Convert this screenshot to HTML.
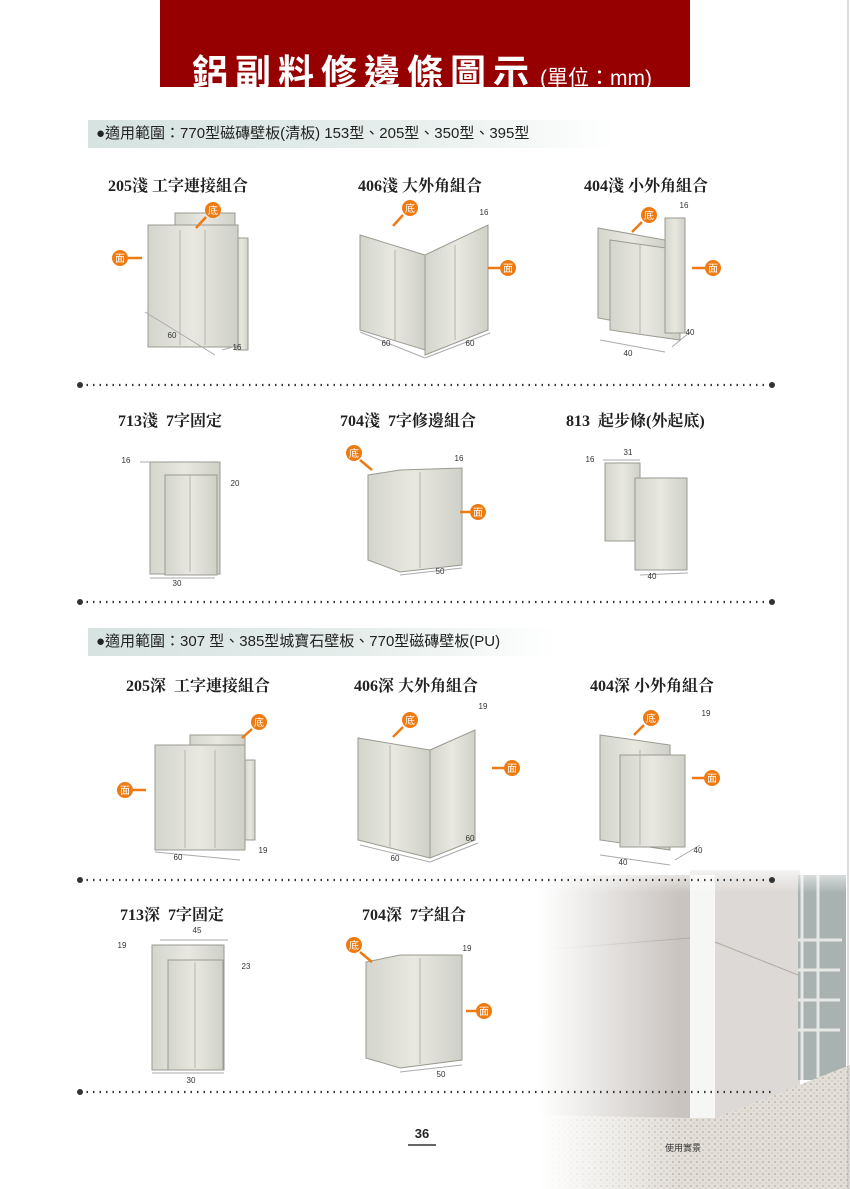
<!DOCTYPE html>
<html><head><meta charset="utf-8">
<style>
body{margin:0;background:#fff;}
#pg{position:relative;width:850px;height:1189px;overflow:hidden;background:#fff;font-family:"Liberation Sans","Noto Sans CJK TC",sans-serif;}
.abs{position:absolute;}
.h{position:absolute;font-family:"Liberation Serif","Noto Serif CJK SC",serif;font-weight:bold;font-size:16px;color:#222;white-space:nowrap;}
.bar{position:absolute;height:28px;background:linear-gradient(90deg,#d6e3e1 0%,#e6eeec 60%,#fff 100%);font-size:15px;line-height:28px;color:#222;padding-left:8px;white-space:nowrap;}
</style></head><body><div id="pg">
<div class="abs" style="left:160px;top:0;width:530px;height:87px;background:#960000;"></div>
<div class="abs" style="left:192px;top:44px;font-size:36px;font-weight:bold;color:#fff;letter-spacing:7px;white-space:nowrap;">鋁副料修邊條圖示<span style="font-size:21px;font-weight:normal;letter-spacing:0;margin-left:4px">(單位：mm)</span></div>
<div class="bar" style="left:88px;top:120px;width:520px;">●適用範圍：770型磁磚壁板(清板) 153型、205型、350型、395型</div>
<div class="bar" style="left:88px;top:628px;width:460px;">●適用範圍：307 型、385型城寶石壁板、770型磁磚壁板(PU)</div>
<div class="h" style="left:108px;top:173px">205淺 工字連接組合</div>
<div class="h" style="left:358px;top:173px">406淺 大外角組合</div>
<div class="h" style="left:584px;top:173px">404淺 小外角組合</div>
<div class="h" style="left:118px;top:408px">713淺 &nbsp;7字固定</div>
<div class="h" style="left:340px;top:408px">704淺 &nbsp;7字修邊組合</div>
<div class="h" style="left:566px;top:408px">813 &nbsp;起步條(外起底)</div>
<div class="h" style="left:126px;top:673px">205深 &nbsp;工字連接組合</div>
<div class="h" style="left:354px;top:673px">406深 大外角組合</div>
<div class="h" style="left:590px;top:673px">404深 小外角組合</div>
<div class="h" style="left:120px;top:902px">713深 &nbsp;7字固定</div>
<div class="h" style="left:362px;top:902px">704深 &nbsp;7字組合</div>
<!-- photo -->
<svg class="abs" style="left:540px;top:860px" width="310" height="329">
<defs>
<linearGradient id="fd" x1="0" x2="1"><stop offset="0" stop-color="#fff" stop-opacity="1"/><stop offset="0.45" stop-color="#fff" stop-opacity="0"/></linearGradient>
<linearGradient id="fv" x1="0" y1="0" x2="0" y2="1"><stop offset="0" stop-color="#fff" stop-opacity="1"/><stop offset="0.1" stop-color="#fff" stop-opacity="0"/></linearGradient>
<pattern id="sp" width="6" height="6" patternUnits="userSpaceOnUse"><rect width="6" height="6" fill="#e2ded8"/><circle cx="1" cy="2" r="0.8" fill="#a59e95"/><circle cx="4" cy="5" r="0.6" fill="#b8b1a7"/></pattern>
</defs>
<rect x="0" y="15" width="150" height="250" fill="#c9c4c0"/>
<rect x="150" y="10" width="110" height="250" fill="#dcd9d6"/>
<rect x="150" y="15" width="25" height="247" fill="#f6f6f4"/>
<rect x="258" y="15" width="48" height="205" fill="#a9b2b1"/>
<g stroke="#e6e8e6" stroke-width="3"><line x1="258" y1="80" x2="302" y2="80"/><line x1="258" y1="110" x2="300" y2="110"/><line x1="258" y1="140" x2="300" y2="140"/><line x1="258" y1="170" x2="300" y2="170"/><line x1="278" y1="15" x2="278" y2="220"/><line x1="262" y1="15" x2="262" y2="220"/></g>
<line x1="0" y1="90" x2="150" y2="78" stroke="#b0aba6"/><line x1="175" y1="82" x2="258" y2="115" stroke="#b0aba6"/>
<polygon points="0,255 150,258 175,258 310,205 310,329 0,329" fill="url(#sp)"/>
<rect width="310" height="329" fill="url(#fd)"/>
<rect width="310" height="329" fill="url(#fv)"/>
<text x="125" y="291" font-size="9" fill="#333" font-family="Liberation Sans,Noto Sans CJK TC,sans-serif">使用實景</text>
</svg>
<svg class="abs" style="left:0;top:0" width="850" height="1189" font-family="Liberation Sans,sans-serif">
<defs>
<linearGradient id="pn" x1="0" x2="1"><stop offset="0" stop-color="#d4d5cc"/><stop offset="0.5" stop-color="#e8e8e0"/><stop offset="1" stop-color="#cfd0c8"/></linearGradient>
</defs>
<g stroke="#333" stroke-width="2.2" stroke-dasharray="1.5 5" fill="none">
<line x1="80" y1="385" x2="772" y2="385"/><line x1="80" y1="602" x2="772" y2="602"/><line x1="80" y1="880" x2="772" y2="880"/><line x1="80" y1="1092" x2="772" y2="1092"/>
</g>
<g fill="#333"><circle cx="80" cy="385" r="3"/><circle cx="772" cy="385" r="3"/><circle cx="80" cy="602" r="3"/><circle cx="772" cy="602" r="3"/><circle cx="80" cy="880" r="3"/><circle cx="772" cy="880" r="3"/><circle cx="80" cy="1092" r="3"/></g>
<g fill="url(#pn)" stroke="#9a9a92" stroke-width="1">
<rect x="175" y="213" width="60" height="30"/><rect x="236" y="238" width="12" height="112"/><rect x="148" y="225" width="90" height="122"/>
<polygon points="360,235 425,255 425,350 360,330"/><polygon points="425,255 488,225 488,330 425,355"/>
<polygon points="598,228 665,240 665,330 598,318"/><polygon points="610,240 680,250 680,340 610,330"/><rect x="665" y="218" width="20" height="115"/>
<rect x="150" y="462" width="70" height="112"/><rect x="165" y="475" width="52" height="100"/>
<polygon points="368,475 400,470 462,468 462,565 400,572 368,560"/>
<rect x="605" y="463" width="35" height="78"/><rect x="635" y="478" width="52" height="92"/>
<rect x="190" y="735" width="55" height="30"/><rect x="155" y="745" width="90" height="105"/><rect x="245" y="760" width="10" height="80"/>
<polygon points="358,738 358,840 430,858 430,750"/><polygon points="430,750 475,730 475,840 430,858"/>
<polygon points="600,735 670,745 670,850 600,840"/><rect x="620" y="755" width="65" height="92"/>
<rect x="152" y="945" width="72" height="125"/><rect x="168" y="960" width="55" height="110"/>
<polygon points="366,962 400,955 462,955 462,1060 400,1068 366,1058"/>
</g>
<g stroke="#b5b5ad" stroke-width="1">
<line x1="180" y1="230" x2="180" y2="345"/><line x1="205" y1="230" x2="205" y2="345"/><line x1="395" y1="250" x2="395" y2="340"/><line x1="455" y1="245" x2="455" y2="340"/><line x1="640" y1="245" x2="640" y2="335"/><line x1="190" y1="475" x2="190" y2="572"/><line x1="420" y1="472" x2="420" y2="568"/><line x1="185" y1="750" x2="185" y2="848"/><line x1="215" y1="750" x2="215" y2="848"/><line x1="390" y1="745" x2="390" y2="848"/><line x1="640" y1="750" x2="640" y2="845"/><line x1="195" y1="962" x2="195" y2="1068"/><line x1="420" y1="958" x2="420" y2="1064"/>
</g>
<g stroke="#aaa" stroke-width="1" fill="none">
<line x1="145" y1="312" x2="215" y2="355"/><line x1="222" y1="350" x2="240" y2="345"/><line x1="360" y1="332" x2="425" y2="358"/><line x1="425" y1="358" x2="490" y2="333"/>
<line x1="600" y1="340" x2="665" y2="352"/><line x1="672" y1="347" x2="690" y2="332"/><line x1="150" y1="578" x2="215" y2="578"/><line x1="400" y1="575" x2="462" y2="568"/><line x1="640" y1="575" x2="688" y2="573"/>
<line x1="155" y1="852" x2="240" y2="860"/><line x1="360" y1="845" x2="430" y2="862"/><line x1="430" y1="862" x2="478" y2="843"/><line x1="600" y1="855" x2="670" y2="865"/><line x1="675" y1="860" x2="700" y2="845"/>
<line x1="152" y1="1073" x2="224" y2="1073"/><line x1="400" y1="1072" x2="462" y2="1065"/><line x1="160" y1="940" x2="228" y2="940"/><line x1="140" y1="462" x2="150" y2="462"/><line x1="603" y1="460" x2="640" y2="460"/>
</g>
<g font-size="8" fill="#333" text-anchor="middle">
<text x="172" y="338">60</text><text x="237" y="350">16</text><text x="484" y="215">16</text><text x="386" y="346">60</text><text x="470" y="346">60</text><text x="684" y="208">16</text><text x="628" y="356">40</text><text x="690" y="335">40</text>
<text x="126" y="463">16</text><text x="235" y="486">20</text><text x="177" y="586">30</text><text x="459" y="461">16</text><text x="440" y="574">50</text><text x="590" y="462">16</text><text x="628" y="455">31</text><text x="652" y="579">40</text>
<text x="178" y="860">60</text><text x="263" y="853">19</text><text x="483" y="709">19</text><text x="395" y="861">60</text><text x="470" y="841">60</text><text x="706" y="716">19</text><text x="623" y="865">40</text><text x="698" y="853">40</text>
<text x="122" y="948">19</text><text x="197" y="933">45</text><text x="246" y="969">23</text><text x="191" y="1083">30</text><text x="467" y="951">19</text><text x="441" y="1077">50</text>
</g>
<g font-size="10" fill="#fff" text-anchor="middle" font-family="Noto Sans CJK TC,sans-serif" stroke-width="2.5">
<g><circle cx="213" cy="210" r="8" fill="#ee7a12"/><text x="213" y="214">底</text><line x1="206" y1="217" x2="196" y2="228" stroke="#ee7a12"/></g>
<g><circle cx="120" cy="258" r="8" fill="#ee7a12"/><text x="120" y="262">面</text><line x1="128" y1="258" x2="142" y2="258" stroke="#ee7a12"/></g>
<g><circle cx="410" cy="208" r="8" fill="#ee7a12"/><text x="410" y="212">底</text><line x1="403" y1="215" x2="393" y2="226" stroke="#ee7a12"/></g>
<g><circle cx="508" cy="268" r="8" fill="#ee7a12"/><text x="508" y="272">面</text><line x1="500" y1="268" x2="488" y2="268" stroke="#ee7a12"/></g>
<g><circle cx="649" cy="215" r="8" fill="#ee7a12"/><text x="649" y="219">底</text><line x1="642" y1="222" x2="632" y2="232" stroke="#ee7a12"/></g>
<g><circle cx="713" cy="268" r="8" fill="#ee7a12"/><text x="713" y="272">面</text><line x1="705" y1="268" x2="692" y2="268" stroke="#ee7a12"/></g>
<g><circle cx="354" cy="453" r="8" fill="#ee7a12"/><text x="354" y="457">底</text><line x1="360" y1="460" x2="372" y2="470" stroke="#ee7a12"/></g>
<g><circle cx="478" cy="512" r="8" fill="#ee7a12"/><text x="478" y="516">面</text><line x1="470" y1="512" x2="460" y2="512" stroke="#ee7a12"/></g>
<g><circle cx="259" cy="722" r="8" fill="#ee7a12"/><text x="259" y="726">底</text><line x1="252" y1="729" x2="242" y2="738" stroke="#ee7a12"/></g>
<g><circle cx="125" cy="790" r="8" fill="#ee7a12"/><text x="125" y="794">面</text><line x1="133" y1="790" x2="146" y2="790" stroke="#ee7a12"/></g>
<g><circle cx="410" cy="720" r="8" fill="#ee7a12"/><text x="410" y="724">底</text><line x1="403" y1="727" x2="393" y2="737" stroke="#ee7a12"/></g>
<g><circle cx="512" cy="768" r="8" fill="#ee7a12"/><text x="512" y="772">面</text><line x1="504" y1="768" x2="492" y2="768" stroke="#ee7a12"/></g>
<g><circle cx="651" cy="718" r="8" fill="#ee7a12"/><text x="651" y="722">底</text><line x1="644" y1="725" x2="634" y2="735" stroke="#ee7a12"/></g>
<g><circle cx="712" cy="778" r="8" fill="#ee7a12"/><text x="712" y="782">面</text><line x1="704" y1="778" x2="692" y2="778" stroke="#ee7a12"/></g>
<g><circle cx="354" cy="945" r="8" fill="#ee7a12"/><text x="354" y="949">底</text><line x1="360" y1="952" x2="372" y2="962" stroke="#ee7a12"/></g>
<g><circle cx="484" cy="1011" r="8" fill="#ee7a12"/><text x="484" y="1015">面</text><line x1="476" y1="1011" x2="466" y2="1011" stroke="#ee7a12"/></g>
</g>
<text x="422" y="1138" font-size="13" font-weight="bold" fill="#222" text-anchor="middle">36</text>
<line x1="408" y1="1145" x2="436" y2="1145" stroke="#333" stroke-width="1.5"/>
<line x1="848" y1="0" x2="848" y2="1189" stroke="#bbb" stroke-width="1"/>
</svg>
</div></body></html>
